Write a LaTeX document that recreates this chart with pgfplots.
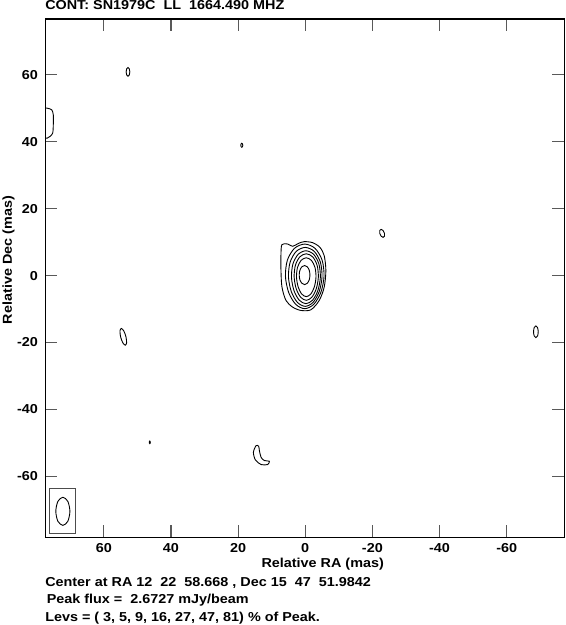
\documentclass[border=0pt]{standalone}
\usepackage{pgfplots}
\pgfplotsset{compat=1.18}
\usepackage{fontspec}
\setmainfont{Liberation Sans}[FakeStretch=1.11]
\newcommand\lbl{\fontsize{13bp}{16bp}\selectfont\bfseries}

\begin{document}
\begin{tikzpicture}
\begin{axis}[
  scale only axis, width=520.8bp, height=519.9bp,
  x dir=reverse, xmin=-77.2, xmax=77.5, ymin=-78.2, ymax=76.6,
  xtick={-60,-40,...,60}, ytick={-60,-40,...,60},
  tick align=inside, major tick length=12bp,
  every tick/.style={black!65, line width=1.1bp},
  axis line style={line width=1.1bp},
  /pgf/number format/assume math mode=true,
  tick label style={font=\lbl},
  xticklabel style={anchor=base, yshift=-15.5bp},
  yticklabel style={anchor=east, inner sep=0pt, xshift=-7bp},
  title={CONT: SN1979C\ \ LL\ \ 1664.490 MHZ},
  title style={font=\lbl, at={(0,1)}, anchor=base west, inner sep=0pt, yshift=4bp},
  xlabel={Relative RA (mas)},
  xlabel style={font=\lbl, at={(axis description cs:0.5,0)}, anchor=base, inner sep=0pt, yshift=-30.5bp, xshift=18bp},
  ylabel={Relative Dec (mas)},
  ylabel style={font=\lbl, at={(axis description cs:-0.0637,0.535)}, anchor=base, inner sep=0pt},
  cont/.style={black, line width=0.9bp, mark=none, smooth cycle},
]
% central source, 7 levels
\addplot[cont] coordinates {(6.93,9.23)(5.25,9.42)(3.76,8.73)(1.98,9.62)(0.30,10.12)(-2.18,9.82)(-4.36,8.43)(-5.64,5.95)(-6.14,1.49)(-5.64,-3.47)(-4.16,-7.44)(-1.68,-10.22)(1.29,-10.42)(3.76,-9.42)(5.74,-7.44)(6.93,-3.47)(7.23,1.49)(7.23,6.45)};
\addplot[cont] coordinates {(5.9,-0.25)(5.33,4.58)(3.23,8.11)(0.15,9.4)(-2.93,8.11)(-5.03,4.58)(-5.6,-0.25)(-4.63,-5.08)(-2.52,-8.61)(0.15,-9.9)(2.82,-8.61)(4.93,-5.08)};
\addplot[cont] coordinates {(5.0,-0.4)(4.505,4.0)(2.675,7.22)(0,8.4)(-2.675,7.22)(-4.505,4.0)(-5.0,-0.4)(-4.155,-4.8)(-2.325,-8.02)(0,-9.2)(2.325,-8.02)(4.155,-4.8)};
\addplot[cont] coordinates {(4.1,-0.5)(3.67,3.45)(2.1,6.34)(-0.2,7.4)(-2.5,6.34)(-4.07,3.45)(-4.5,-0.5)(-3.77,-4.45)(-2.2,-7.34)(-0.2,-8.4)(1.8,-7.34)(3.37,-4.45)};
\addplot[cont] coordinates {(3.3,-0.45)(2.94,3.03)(1.63,5.57)(-0.3,6.5)(-2.23,5.57)(-3.54,3.03)(-3.9,-0.45)(-3.29,-3.93)(-1.97,-6.47)(-0.3,-7.4)(1.37,-6.47)(2.69,-3.93)};
\addplot[cont] coordinates {(2.6,-0.5)(2.31,2.4)(1.25,4.52)(-0.3,5.3)(-1.85,4.52)(-2.91,2.4)(-3.2,-0.5)(-2.71,-3.4)(-1.65,-5.52)(-0.3,-6.3)(1.05,-5.52)(2.11,-3.4)};
\addplot[cont] coordinates {(1.8,0.15)(1.59,1.58)(1.0,2.62)(0.2,3.0)(-0.6,2.62)(-1.19,1.58)(-1.4,0.15)(-1.19,-1.28)(-0.6,-2.32)(0.2,-2.7)(1.0,-2.32)(1.59,-1.28)};
% small features
\addplot[cont] coordinates {(53.35,60.8)(53.19,61.72)(52.8,62.1)(52.41,61.72)(52.25,60.8)(52.41,59.88)(52.8,59.5)(53.19,59.88)};
\addplot[cont] coordinates {(19.2,38.9)(19.11,39.32)(18.9,39.5)(18.69,39.32)(18.6,38.9)(18.69,38.48)(18.9,38.3)(19.11,38.48)};
\addplot[cont] coordinates {(-22.2,12.6)(-22.19,13.45)(-22.6,13.8)(-23.19,13.45)(-23.6,12.6)(-23.61,11.75)(-23.2,11.4)(-22.61,11.75)};
\addplot[cont] coordinates {(-68.0,-16.8)(-68.2,-15.56)(-68.7,-15.05)(-69.2,-15.56)(-69.4,-16.8)(-69.2,-18.04)(-68.7,-18.55)(-68.2,-18.04)};
\addplot[cont] coordinates {(55.0,-18.3)(55.19,-16.53)(54.8,-15.8)(54.05,-16.53)(53.4,-18.3)(53.21,-20.07)(53.6,-20.8)(54.35,-20.07)};
\addplot[cont] coordinates {(46.45,-49.8)(46.41,-49.52)(46.3,-49.4)(46.19,-49.52)(46.15,-49.8)(46.19,-50.08)(46.3,-50.2)(46.41,-50.08)};
\addplot[cont] coordinates {(14.64,-50.78)(15.44,-52.77)(14.85,-55.04)(13.16,-56.43)(11.2,-56.43)(10.69,-55.45)(12.18,-55.24)(13.16,-54.26)(13.66,-52.26)(13.87,-50.99)};
% clipped feature at the left edge
\addplot[black, line width=0.9bp, mark=none, smooth] coordinates {(77.8,50.1)(76.83,49.97)(75.53,49.49)(75.05,48.0)(75.05,45.03)(75.23,42.52)(76.03,41.54)(76.83,41.04)(77.8,41.0)};
% beam
\addplot[black!70, line width=1bp, mark=none, sharp cycle] coordinates {(76.2,-63.7)(68.3,-63.7)(68.3,-77.1)(76.2,-77.1)};
\addplot[cont] coordinates {(74.3,-70.4)(73.68,-67.43)(72.2,-66.2)(70.72,-67.43)(70.1,-70.4)(70.72,-73.37)(72.2,-74.6)(73.68,-73.37)};
\end{axis}
\node[anchor=base west, inner sep=0pt, font=\lbl] at ([yshift=-49.3bp]current axis.south west) {Center at RA 12\ \ 22\ \ 58.668 , Dec 15\ \ 47\ \ 51.9842};
\node[anchor=base west, inner sep=0pt, font=\lbl] at ([xshift=1.5bp,yshift=-66.3bp]current axis.south west) {Peak flux =\ \ 2.6727 mJy/beam};
\node[anchor=base west, inner sep=0pt, font=\lbl] at ([yshift=-84.3bp]current axis.south west) {Levs = ( 3, 5, 9, 16, 27, 47, 81) \% of Peak.};
\path (current axis.south west) ++(-45.2bp,-87.8bp) rectangle ++(567bp,625bp);
\end{tikzpicture}
\end{document}
